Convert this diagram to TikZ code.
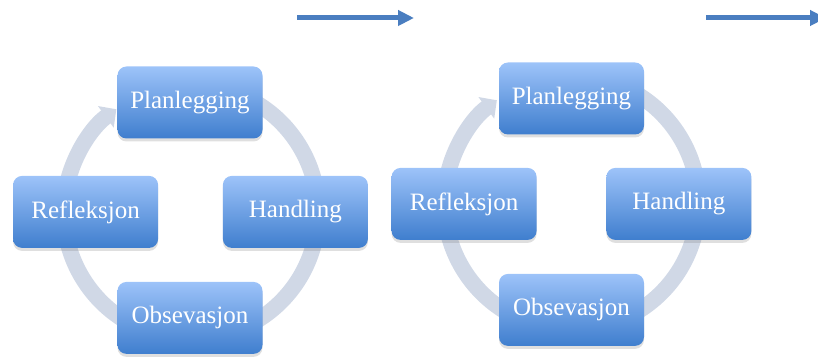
\documentclass[tikz,border=0pt]{standalone}
\usepackage{fontspec}
\setmainfont{Liberation Serif}
\usetikzlibrary{arrows.meta,shadows,positioning}

\definecolor{boxtop}{RGB}{157,195,249}
\definecolor{boxmid}{RGB}{122,166,234}
\definecolor{boxbot}{RGB}{63,126,206}
\definecolor{ringgrey}{RGB}{208,216,230}
\definecolor{flowblue}{RGB}{74,126,192}

\begin{document}
\begin{tikzpicture}
[
	x=1pt, y=1pt,
	phase/.style = {rectangle, rounded corners=9pt, minimum width=145pt, minimum height=72pt, inner sep=0pt, top color=boxtop, middle color=boxmid, bottom color=boxbot, text=white, font=\fontsize{25}{29}\selectfont, drop shadow={shadow xshift=0pt, shadow yshift=-3pt, opacity=0.25}},
	ring/.style = {line width=16pt, draw=ringgrey, -{Triangle[width=26pt, length=13pt]}},
	flow/.style = {line width=5pt, draw=flowblue, -{Triangle[width=15pt, length=16pt]}}
]

\clip (0,0) rectangle (818,358);

% arrows on top
\coordinate (f1start) at (297,340);
\coordinate (f1end) at (414,340);
\coordinate (f2start) at (706,340);
\coordinate (f2end) at (826,340);
\draw[flow] (f1start) -- (f1end);
\draw[flow] (f2start) -- (f2end);

% first cycle
\coordinate (c1) at (191,146);
\draw[ring] ([shift={(75:127)}] c1) arc[start angle=75, end angle=-234, radius=127];

\node[phase] (plan1) at (190,255.5) {Planlegging};
\node[phase, below left = 37pt and -41pt of plan1] (refl1) {Refleksjon};
\node[phase, below right = 37pt and -40pt of plan1] (hand1) {Handling};
\node[phase, below = 143pt of plan1] (obs1) {Obsevasjon};

% second cycle
\coordinate (c2) at (571.5,155);
\draw[ring] ([shift={(75:127)}] c2) arc[start angle=75, end angle=-234, radius=127];

\node[phase] (plan2) at (571.5,259.5) {Planlegging};
\node[phase, below left = 33pt and -38pt of plan2] (refl2) {Refleksjon};
\node[phase, below right = 33pt and -38pt of plan2] (hand2) {Handling};
\node[phase, below = 139pt of plan2] (obs2) {Obsevasjon};

\end{tikzpicture}
\end{document}
